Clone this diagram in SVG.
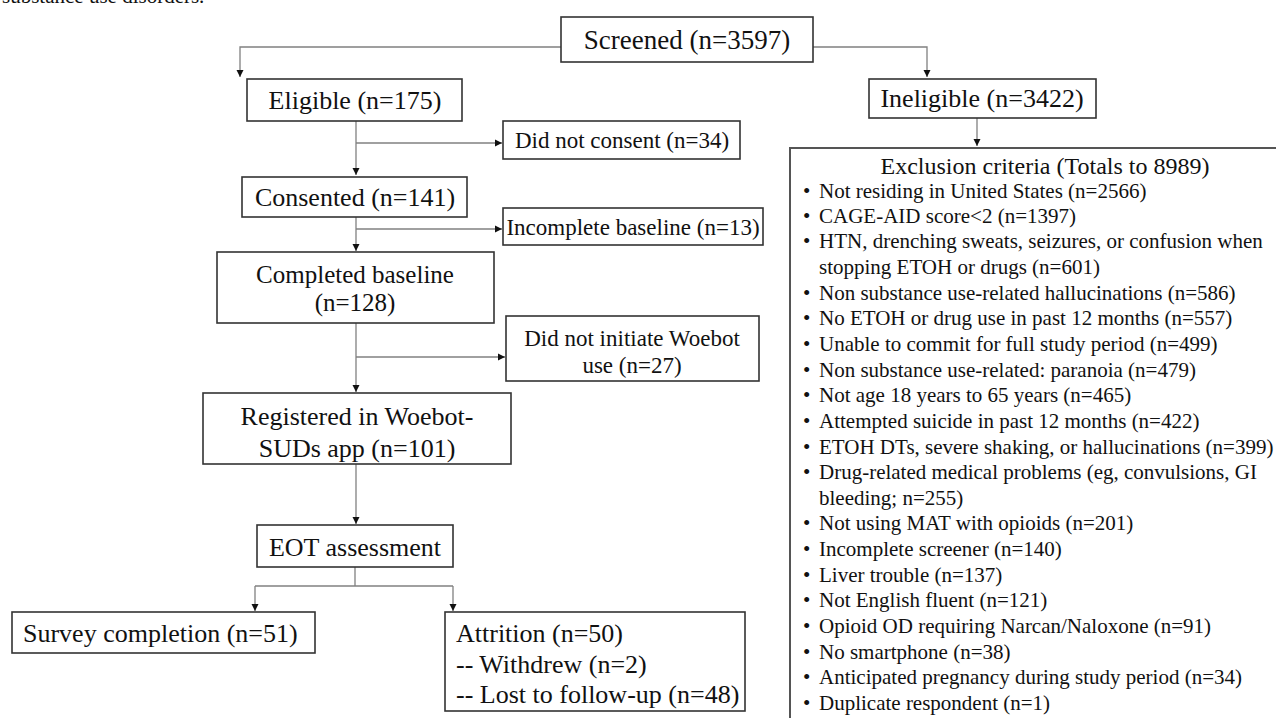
<svg xmlns="http://www.w3.org/2000/svg" width="1276" height="718" viewBox="0 0 1276 718">
<defs>
<marker id="ah" markerWidth="8" markerHeight="8" refX="7" refY="4" orient="auto" markerUnits="userSpaceOnUse">
<path d="M0,0.5 L7,4 L0,7.5 z" fill="#111"/>
</marker>
<style>
text{font-family:"Liberation Serif","Times New Roman",serif;fill:#111}
.box{fill:#fff;stroke:#333;stroke-width:1.6}
.c{text-anchor:middle}
.f27{font-size:27px}.f26{font-size:26px}.f25{font-size:25px}.f23{font-size:23px}.f24{font-size:24px}.f21{font-size:21px}
.ln{fill:none;stroke:#808080;stroke-width:1.3}
</style>
</defs>
<rect width="1276" height="718" fill="#fff"/>
<text x="2" y="3" class="f21">substance use disorders.</text>

<g id="connectors">
<path class="ln" d="M561,47 H240 V77" marker-end="url(#ah)"/>
<path class="ln" d="M813,47 H927 V77" marker-end="url(#ah)"/>
<path class="ln" d="M977,118 V146" marker-end="url(#ah)"/>
<path class="ln" d="M356,121 V175" marker-end="url(#ah)"/>
<path class="ln" d="M356,143 H502" marker-end="url(#ah)"/>
<path class="ln" d="M356,217 V251" marker-end="url(#ah)"/>
<path class="ln" d="M356,229 H502" marker-end="url(#ah)"/>
<path class="ln" d="M356,323 V392" marker-end="url(#ah)"/>
<path class="ln" d="M356,357 H505" marker-end="url(#ah)"/>
<path class="ln" d="M356,464 V524" marker-end="url(#ah)"/>
<path class="ln" d="M355,567 V586"/>
<path class="ln" d="M255,586 H453"/>
<path class="ln" d="M255,586 V611" marker-end="url(#ah)"/>
<path class="ln" d="M453,586 V611" marker-end="url(#ah)"/>
</g>

<g id="screened">
<rect class="box" x="561" y="17" width="252" height="45"/>
<text x="687" y="49" class="c f27">Screened (n=3597)</text>
</g>
<g id="eligible">
<rect class="box" x="247" y="79" width="215" height="42"/>
<text x="355" y="109" class="c f26">Eligible (n=175)</text>
</g>
<g id="ineligible">
<rect class="box" x="869" y="79" width="227" height="39"/>
<text x="982" y="107" class="c f26">Ineligible (n=3422)</text>
</g>
<g id="not-consent">
<rect class="box" x="503" y="121" width="237" height="38"/>
<text x="622" y="148" class="c f23">Did not consent (n=34)</text>
</g>
<g id="consented">
<rect class="box" x="242" y="177" width="225" height="40"/>
<text x="355" y="206" class="c f26">Consented (n=141)</text>
</g>
<g id="incomplete">
<rect class="box" x="503" y="208" width="260" height="37"/>
<text x="633" y="235" class="c f23">Incomplete baseline (n=13)</text>
</g>
<g id="completed">
<rect class="box" x="217" y="252" width="277" height="71"/>
<text x="355" y="283" class="c f25">Completed baseline</text>
<text x="355" y="311" class="c f25">(n=128)</text>
</g>
<g id="not-initiate">
<rect class="box" x="506" y="316" width="253" height="65"/>
<text x="632" y="346" class="c f23">Did not initiate Woebot</text>
<text x="632" y="373" class="c f23">use (n=27)</text>
</g>
<g id="registered">
<rect class="box" x="203" y="393" width="308" height="71"/>
<text x="357" y="425" class="c f26">Registered in Woebot-</text>
<text x="357" y="457" class="c f26">SUDs app (n=101)</text>
</g>
<g id="eot">
<rect class="box" x="257" y="525" width="196" height="42"/>
<text x="355" y="556" class="c f26">EOT assessment</text>
</g>
<g id="survey">
<rect class="box" x="12" y="612" width="303" height="41"/>
<text x="23" y="642" class="f26">Survey completion (n=51)</text>
</g>
<g id="attrition">
<rect class="box" x="445" y="612" width="300" height="99"/>
<text x="456" y="642" class="f26">Attrition (n=50)</text>
<text x="456" y="673" class="f26">-- Withdrew (n=2)</text>
<text x="456" y="703" class="f26">-- Lost to follow-up (n=48)</text>
</g>
<g id="exclusion">
<rect class="box" x="790" y="148" width="500" height="590" style="stroke:#555;stroke-width:2"/>
<text x="1045" y="174" class="c f24">Exclusion criteria (Totals to 8989)</text>
<g class="f21">
<text x="803" y="198">•</text><text x="819" y="198">Not residing in United States (n=2566)</text>
<text x="803" y="223">•</text><text x="819" y="223">CAGE-AID  score&lt;2 (n=1397)</text>
<text x="803" y="248">•</text><text x="819" y="248">HTN, drenching sweats, seizures, or confusion when</text>
<text x="819" y="274">stopping ETOH or drugs (n=601)</text>
<text x="803" y="300">•</text><text x="819" y="300">Non substance use-related hallucinations (n=586)</text>
<text x="803" y="325">•</text><text x="819" y="325">No ETOH or drug use in past 12 months (n=557)</text>
<text x="803" y="351">•</text><text x="819" y="351">Unable to commit for full study period (n=499)</text>
<text x="803" y="377">•</text><text x="819" y="377">Non substance use-related: paranoia (n=479)</text>
<text x="803" y="402">•</text><text x="819" y="402">Not age 18 years to 65 years (n=465)</text>
<text x="803" y="428">•</text><text x="819" y="428">Attempted suicide in past 12 months (n=422)</text>
<text x="803" y="454">•</text><text x="819" y="454">ETOH DTs, severe shaking, or hallucinations (n=399)</text>
<text x="803" y="479">•</text><text x="819" y="479">Drug-related medical problems (eg, convulsions, GI</text>
<text x="819" y="505">bleeding; n=255)</text>
<text x="803" y="530">•</text><text x="819" y="530">Not using MAT with opioids (n=201)</text>
<text x="803" y="556">•</text><text x="819" y="556">Incomplete screener (n=140)</text>
<text x="803" y="582">•</text><text x="819" y="582">Liver trouble (n=137)</text>
<text x="803" y="607">•</text><text x="819" y="607">Not English fluent (n=121)</text>
<text x="803" y="633">•</text><text x="819" y="633">Opioid OD requiring Narcan/Naloxone (n=91)</text>
<text x="803" y="659">•</text><text x="819" y="659">No smartphone (n=38)</text>
<text x="803" y="684">•</text><text x="819" y="684">Anticipated pregnancy during study period (n=34)</text>
<text x="803" y="710">•</text><text x="819" y="710">Duplicate respondent (n=1)</text>
</g>
</g>
</svg>
